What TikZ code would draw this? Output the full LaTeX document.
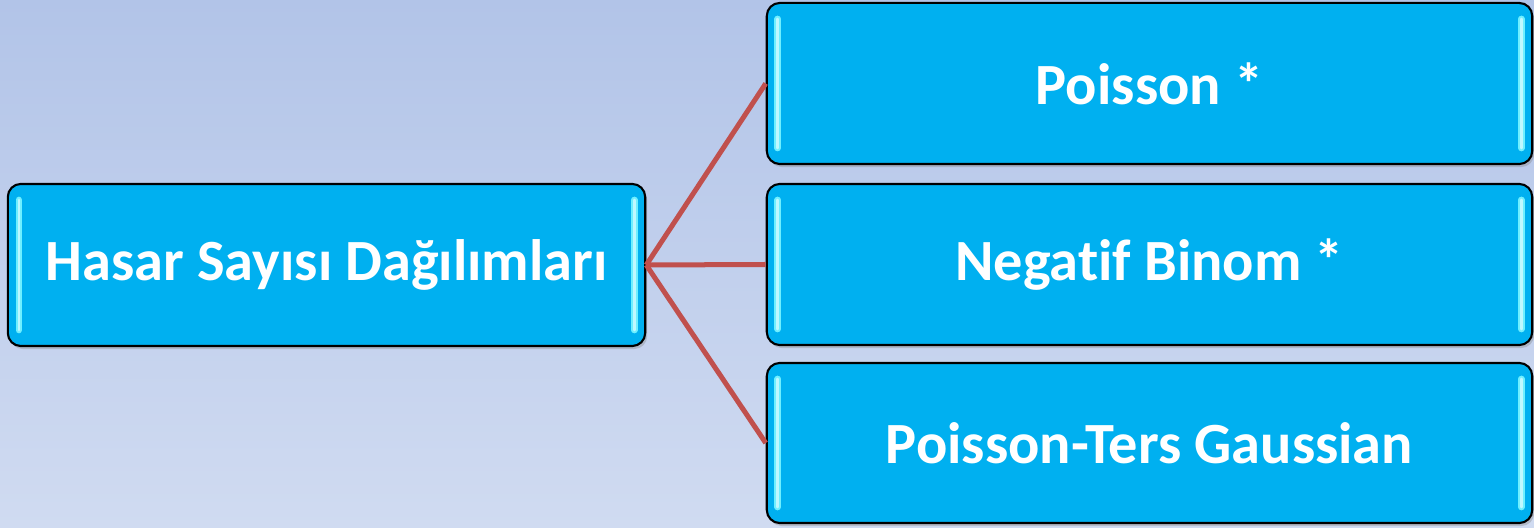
\documentclass[tikz,border=0pt]{standalone}
\usepackage{fontspec}
\setmainfont{Carlito}[Ligatures=NoCommon]
\usetikzlibrary{calc,shadows}
\definecolor{bgtop}{HTML}{B2C4E8}
\definecolor{bgbot}{HTML}{D0DBF1}
\definecolor{boxfill}{HTML}{00B0F0}
\definecolor{hilite}{HTML}{6FEFFF}
\definecolor{conn}{HTML}{C0504D}
\tikzset{
  box/.style={draw=black, line width=0.6pt, fill=boxfill, rounded corners=0.13cm,
    text=white, font=\fontsize{16.6}{19}\selectfont\bfseries, inner sep=0pt,
    drop shadow={shadow xshift=0.02cm, shadow yshift=-0.03cm, opacity=0.35}},
  hl/.style={line width=0.065cm, hilite, line cap=round},
  hlc/.style={line width=0.025cm, white!55!hilite, line cap=round},
  connector/.style={conn, line width=0.05cm}
}
\begin{document}
\begin{tikzpicture}[x=0.01cm,y=-0.01cm]
\useasboundingbox (0,0) rectangle (1534,528);
\shade[top color=bgtop, bottom color=bgbot] (0,0) rectangle (1534,528);
\node[box, minimum width=6.37cm, minimum height=1.62cm] (src) at (326.5,265) {Hasar Sayısı Dağılımları};
\node[box, minimum width=7.65cm, minimum height=1.61cm] (p) at (1149.5,83.5) {Poisson *};
\node[box, minimum width=7.65cm, minimum height=1.61cm] (nb) at (1149.5,264.5) {Negatif Binom *};
\node[box, minimum width=7.65cm, minimum height=1.60cm] (pig) at (1149.5,443) {Poisson-Ters Gaussian};
\foreach \n in {src,p,nb,pig}{
  \draw[hl] ($(\n.north west)+(12,17)$) -- ($(\n.south west)+(12,-17)$);
  \draw[hl] ($(\n.north east)+(-12,17)$) -- ($(\n.south east)+(-12,-17)$);
  \draw[hlc] ($(\n.north west)+(12,17)$) -- ($(\n.south west)+(12,-17)$);
  \draw[hlc] ($(\n.north east)+(-12,17)$) -- ($(\n.south east)+(-12,-17)$);
}
\draw[connector] (src.east) -- (p.west);
\draw[connector] (src.east) -- (nb.west);
\draw[connector] (src.east) -- (pig.west);
\end{tikzpicture}
\end{document}
